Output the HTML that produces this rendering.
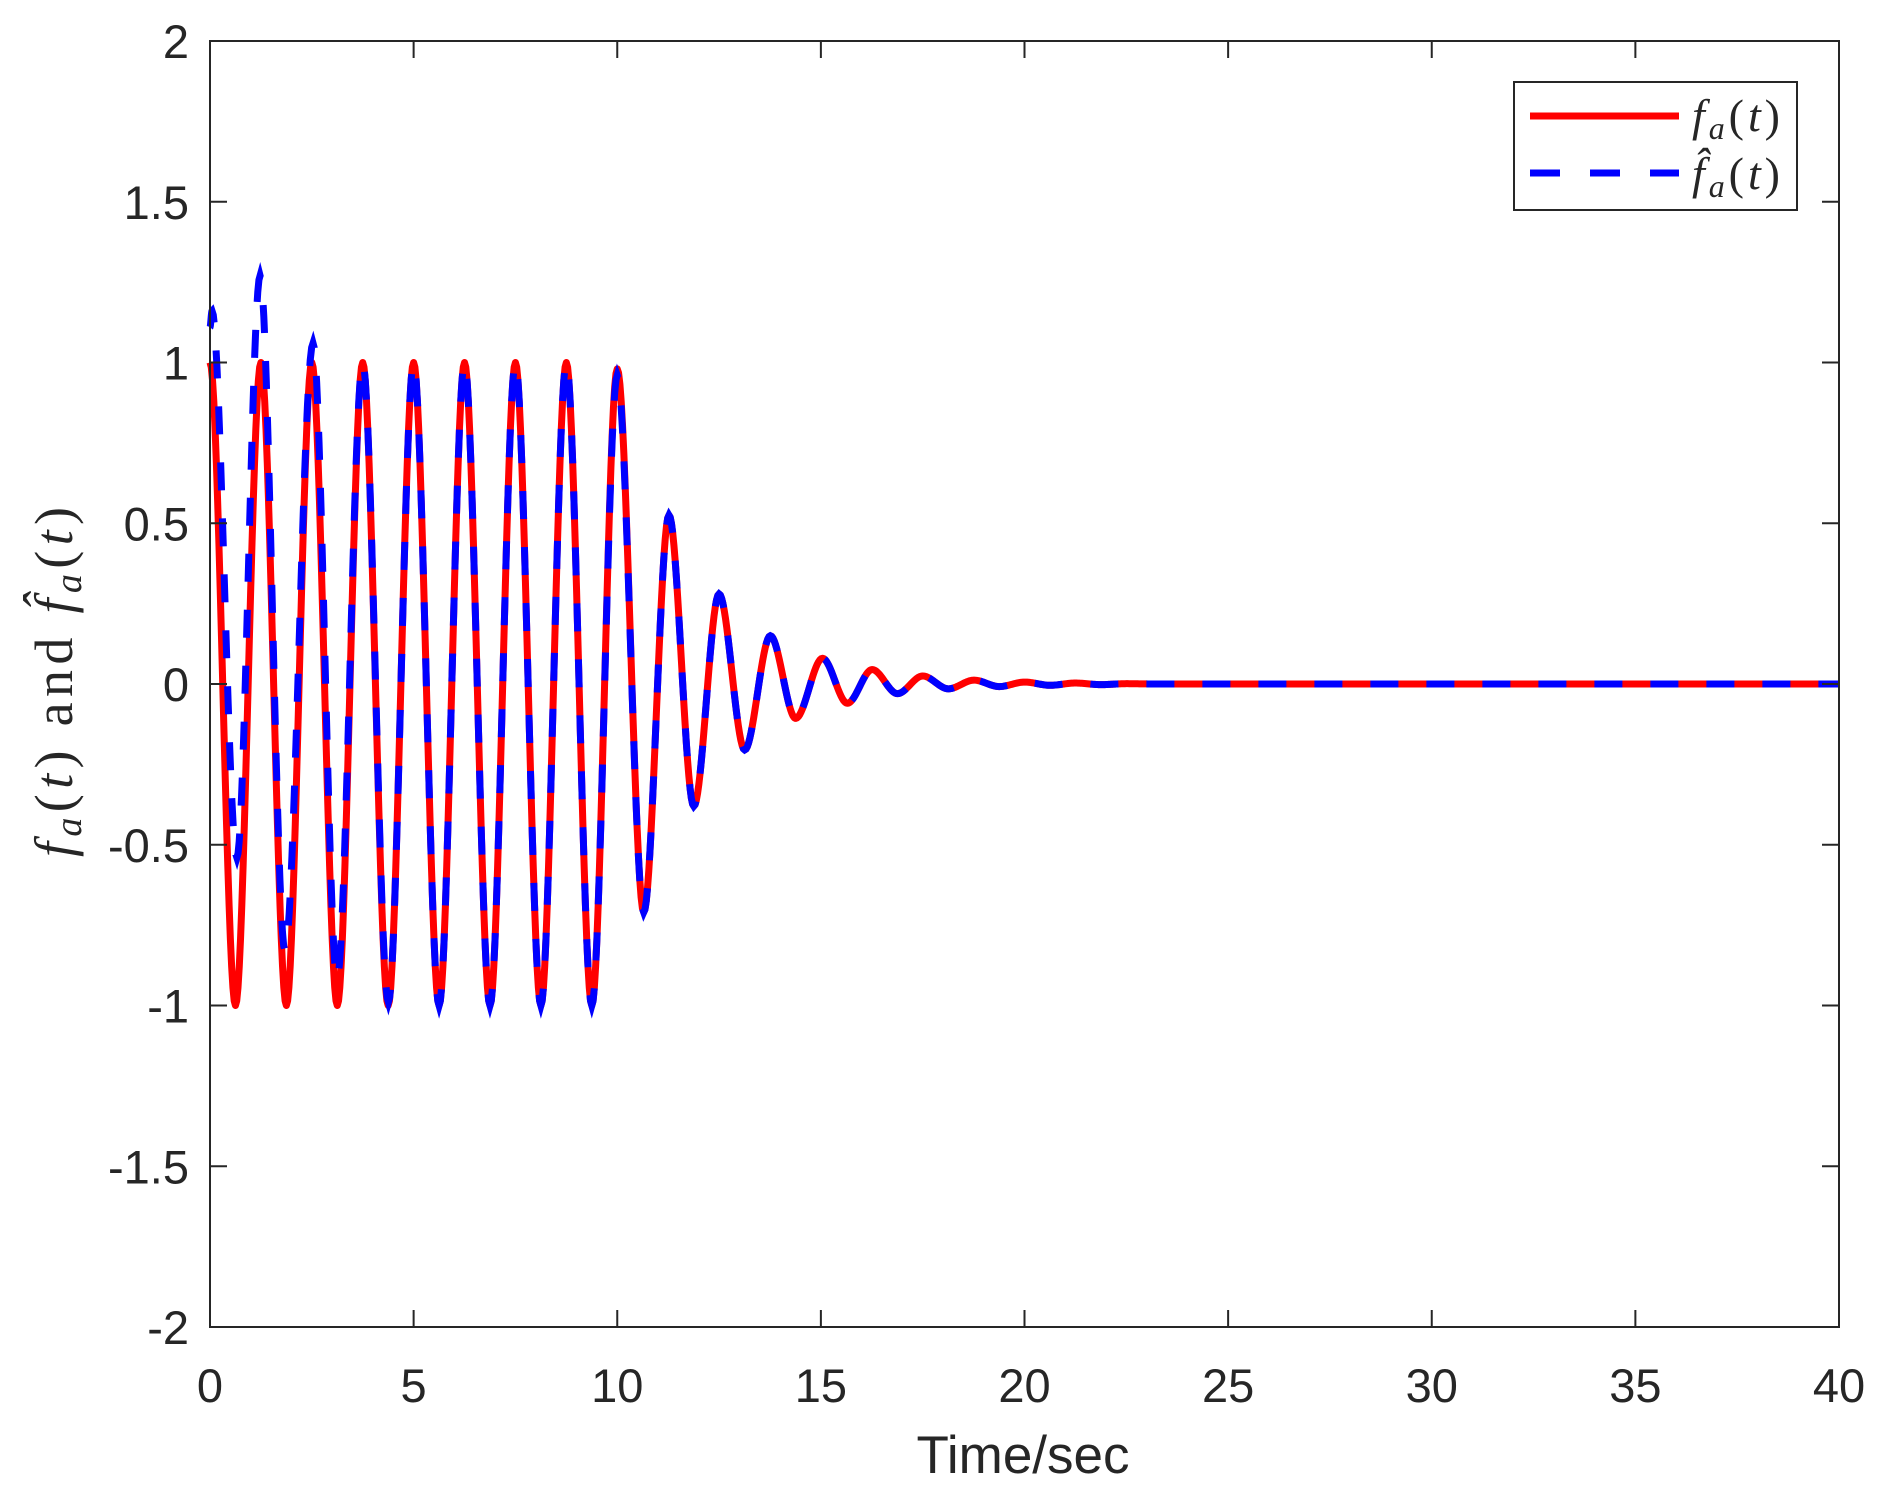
<!DOCTYPE html>
<html><head><meta charset="utf-8">
<style>
html,body{margin:0;padding:0;background:#fff;}
svg{display:block;}
text{fill:#262626;}
</style></head>
<body>
<svg id="chart" width="1900" height="1496" viewBox="0 0 1900 1496" xmlns="http://www.w3.org/2000/svg">
<rect width="1900" height="1496" fill="#fff"/>
<g id="series"></g>
<g id="axes"></g>
<g id="legend">
  <rect x="1514" y="82" width="283" height="128" fill="#fff" stroke="#262626" stroke-width="2"/>
  <line x1="1530" y1="116" x2="1679" y2="116" stroke="#ff0000" stroke-width="7"/>
  <line x1="1530" y1="173" x2="1679" y2="173" stroke="#0000ff" stroke-width="7" stroke-dasharray="30,30"/>
  <text x="1692" y="131" textLength="88" lengthAdjust="spacing" font-family="'Liberation Serif',serif" font-size="46" font-style="italic">f<tspan font-size="32" dy="8">a</tspan><tspan font-style="normal" dy="-8">(</tspan>t<tspan font-style="normal">)</tspan></text>
  <text x="1692" y="189" textLength="88" lengthAdjust="spacing" font-family="'Liberation Serif',serif" font-size="46" font-style="italic">f̂<tspan font-size="32" dy="8">a</tspan><tspan font-style="normal" dy="-8">(</tspan>t<tspan font-style="normal">)</tspan></text>
</g>
<text x="1023" y="1473" text-anchor="middle" font-family="'Liberation Sans',sans-serif" font-size="53">Time/sec</text>
<text transform="translate(72,857) rotate(-90)" textLength="350" lengthAdjust="spacing" font-family="'Liberation Serif',serif" font-size="54" font-style="italic">f<tspan font-size="38" dy="9">a</tspan><tspan font-style="normal" dy="-9">(</tspan>t<tspan font-style="normal">) and </tspan>f̂<tspan font-size="38" dy="9">a</tspan><tspan font-style="normal" dy="-9">(</tspan>t<tspan font-style="normal">)</tspan></text>
</svg>
<script>
// data: extrema (time, value)
const redT = [0,0.625,1.25,1.875,2.5,3.125,3.75,4.375,5,5.625,6.25,6.875,7.5,8.125,8.75,9.375,10,10.65,11.27,11.88,12.5,13.13,13.76,14.38,15.04,15.65,16.26,16.88,17.5,18.13,18.76,19.38,20,20.63,21.25,21.88,22.5,23.2,40];
const redV = [1,-1,1,-1,1,-1,1,-1,1,-1,1,-1,1,-1,1,-1,0.98,-0.71,0.525,-0.38,0.28,-0.205,0.15,-0.107,0.08,-0.06,0.045,-0.03,0.025,-0.015,0.012,-0.008,0.006,-0.004,0.003,-0.002,0.001,0,0];
const blueT = [0,0.05,0.66,1.23,1.84,2.53,3.12,3.75,4.38,5,5.625,6.25,6.875,7.5,8.125,8.75,9.375,10,10.65,11.27,11.88,12.5,13.13,13.76,14.38,15.04,15.65,16.26,16.88,17.5,18.13,18.76,19.38,20,20.63,21.25,21.88,22.5,23.2,40];
const blueV = [1.11,1.16,-0.54,1.27,-0.83,1.06,-0.92,1.0,-0.99,1,-1,1,-1,1,-1,1,-1,0.96,-0.71,0.525,-0.38,0.28,-0.205,0.15,-0.107,0.08,-0.06,0.045,-0.03,0.025,-0.015,0.012,-0.008,0.006,-0.004,0.003,-0.002,0.001,0,0];
const xTicks = [0,5,10,15,20,25,30,35,40];
const yTicks = [-2,-1.5,-1,-0.5,0,0.5,1,1.5,2];
const yTickLabels = ['-2','-1.5','-1','-0.5','0','0.5','1','1.5','2'];

const L=210,R=1839,T=41,B=1327;
const xMin=0,xMax=40,yMin=-2,yMax=2;
function sx(t){return L+(t-xMin)/(xMax-xMin)*(R-L);}
function sy(v){return B-(v-yMin)/(yMax-yMin)*(B-T);}
const NS='http://www.w3.org/2000/svg';

function pathFrom(ts,vs){
  let d='M'+sx(ts[0]).toFixed(2)+','+sy(vs[0]).toFixed(2);
  for(let i=0;i<ts.length-1;i++){
    const n=20;
    for(let k=1;k<=n;k++){
      const s=k/n, h=3*s*s-2*s*s*s;
      const t=ts[i]+(ts[i+1]-ts[i])*s, v=vs[i]+(vs[i+1]-vs[i])*h;
      d+=' L'+sx(t).toFixed(2)+','+sy(v).toFixed(2);
    }
  }
  return d;
}
const series=document.getElementById('series');
const red=document.createElementNS(NS,'path');
red.setAttribute('d',pathFrom(redT,redV));
red.setAttribute('fill','none');red.setAttribute('stroke','#ff0000');red.setAttribute('stroke-width','7');
red.setAttribute('stroke-linejoin','round');


series.appendChild(red);
const blue=document.createElementNS(NS,'path');
blue.setAttribute('d',pathFrom(blueT,blueV));
blue.setAttribute('fill','none');blue.setAttribute('stroke','#0000ff');blue.setAttribute('stroke-width','7');
blue.setAttribute('stroke-dasharray','28,28');


series.appendChild(blue);

const axes=document.getElementById('axes');
const frame=document.createElementNS(NS,'rect');
frame.setAttribute('x',L);frame.setAttribute('y',T);frame.setAttribute('width',R-L);frame.setAttribute('height',B-T);
frame.setAttribute('fill','none');frame.setAttribute('stroke','#262626');frame.setAttribute('stroke-width','2');


axes.appendChild(frame);
xTicks.forEach(function(t){
  const x=sx(t);
  const l1=document.createElementNS(NS,'path');
  l1.setAttribute('d','M'+x+','+B+' V'+(B-17)+' M'+x+','+T+' V'+(T+17));
  l1.setAttribute('stroke','#262626');l1.setAttribute('stroke-width','2');
  
  
  axes.appendChild(l1);
  const tx=document.createElementNS(NS,'text');
  tx.setAttribute('x',x);tx.setAttribute('y',1402);tx.setAttribute('text-anchor','middle');
  tx.setAttribute('font-family',"'Liberation Sans',sans-serif");tx.setAttribute('font-size','47');
  tx.textContent=String(t);
  
  
  axes.appendChild(tx);
});
yTicks.forEach(function(v,i){
  const y=sy(v);
  const l1=document.createElementNS(NS,'path');
  l1.setAttribute('d','M'+L+','+y+' H'+(L+17)+' M'+R+','+y+' H'+(R-17));
  l1.setAttribute('stroke','#262626');l1.setAttribute('stroke-width','2');
  
  
  axes.appendChild(l1);
  const tx=document.createElementNS(NS,'text');
  tx.setAttribute('x',189);tx.setAttribute('y',y+17);tx.setAttribute('text-anchor','end');
  tx.setAttribute('font-family',"'Liberation Sans',sans-serif");tx.setAttribute('font-size','47');
  tx.textContent=yTickLabels[i];
  
  
  axes.appendChild(tx);
});
</script>
</body></html>
